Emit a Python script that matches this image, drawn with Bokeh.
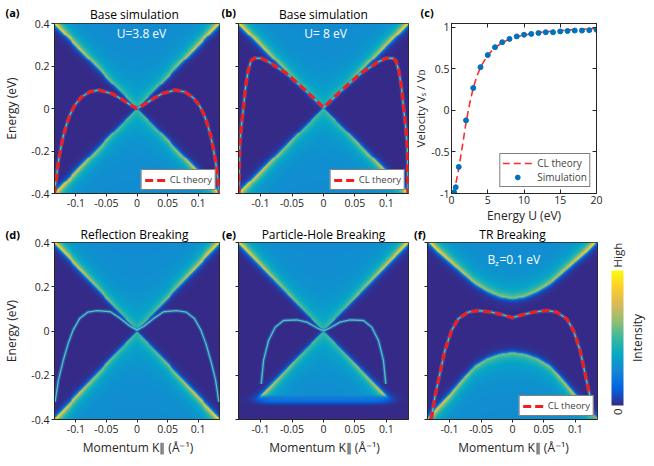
import numpy as np
from bokeh.plotting import figure
from bokeh.models import (LinearColorMapper, Label, Legend, LegendItem, LinearAxis, GridBox,
                          Range1d, FixedTicker, NumeralTickFormatter, CustomJSTickFormatter, ColorBar)
from bokeh.layouts import row, column
from bokeh.embed import file_html
from bokeh.resources import INLINE

# ------------------------------------------------------------------ data
K_RANGE = (-0.135, 0.135)
E_RANGE = (-0.4, 0.4)
k_ticks = [-0.1, -0.05, 0, 0.05, 0.1]
E_ticks = [-0.4, -0.2, 0, 0.2, 0.4]
U_ticks = [0, 5, 10, 15, 20]
V_ticks = [-1, -0.5, 0, 0.5, 1]

# bulk Dirac-cone edges (|k|, E)
cone_up_k = [0.0, 0.135]
cone_up_E = [0.0, 0.4]
cone_lo_k = [0.0, 0.135]
cone_lo_E = [0.0, -0.4]
ph_cut_E = -0.295                      # (e) lower cone ends here
tr_up_k = [0.0, 0.02, 0.04, 0.06, 0.08, 0.10, 0.12, 0.135]
tr_up_E = [0.145, 0.155, 0.18, 0.215, 0.265, 0.315, 0.365, 0.41]
tr_lo_k = [0.0, 0.02, 0.04, 0.06, 0.08, 0.10, 0.12, 0.135]
tr_lo_E = [-0.097, -0.105, -0.125, -0.16, -0.222, -0.29, -0.35, -0.4]

# (a) CL theory, U = 3.8 eV
a_k = [-0.135, -0.134, -0.1313, -0.1286, -0.1249, -0.1206, -0.1154, -0.11, -0.102, -0.0916, -0.078,
       -0.0624, -0.041, -0.0254, -0.0095, 0.0, 0.0095, 0.0254, 0.041, 0.0624, 0.078, 0.0916, 0.102,
       0.11, 0.1154, 0.1206, 0.1249, 0.1286, 0.1313, 0.134, 0.135]
a_E = [-0.4, -0.37, -0.31, -0.25, -0.189, -0.129, -0.076, -0.031, 0.0145, 0.052, 0.078,
       0.087, 0.07, 0.044, 0.0145, 0.0, 0.0145, 0.044, 0.07, 0.087, 0.078, 0.052, 0.0145,
       -0.031, -0.076, -0.129, -0.189, -0.25, -0.31, -0.37, -0.4]
# (b) CL theory, U = 8 eV
b_k = [-0.1345, -0.133, -0.130, -0.127, -0.124, -0.12, -0.115, -0.11, -0.099, -0.086, -0.059, -0.033,
       -0.014, 0.0, 0.014, 0.033, 0.059, 0.086, 0.099, 0.11, 0.115, 0.12, 0.124, 0.127, 0.130, 0.133, 0.1345]
b_E = [-0.4, -0.174, -0.07, 0.007, 0.097, 0.173, 0.225, 0.237, 0.236, 0.218, 0.165, 0.097,
       0.044, 0.004, 0.044, 0.097, 0.165, 0.218, 0.236, 0.237, 0.225, 0.173, 0.097, 0.007, -0.07, -0.174, -0.4]
# (d) reflection breaking surface state
d_k = [-0.134, -0.1286, -0.1206, -0.1126, -0.1046, -0.094, -0.0807, -0.0647, -0.0434, -0.0274, -0.0114,
       0.0, 0.0114, 0.0274, 0.0434, 0.0647, 0.0807, 0.094, 0.1046, 0.1126, 0.1206, 0.1286, 0.134]
d_E = [-0.32, -0.222, -0.132, -0.056, 0.004, 0.056, 0.085, 0.092, 0.087, 0.057, 0.022,
       0.004, 0.022, 0.057, 0.087, 0.092, 0.085, 0.056, 0.004, -0.056, -0.132, -0.222, -0.32]
# (e) particle-hole breaking surface state
e_k = [-0.0989, -0.0952, -0.0873, -0.0767, -0.0635, -0.0422, -0.0263, -0.0105, 0.0,
       0.0105, 0.0263, 0.0422, 0.0635, 0.0767, 0.0873, 0.0952, 0.0989]
e_E = [-0.239, -0.133, -0.043, 0.017, 0.0475, 0.0506, 0.04, 0.0145, 0.0,
       0.0145, 0.04, 0.0506, 0.0475, 0.017, -0.043, -0.133, -0.239]
# (f) CL theory, Bz = 0.1 eV
f_k = [-0.130, -0.1286, -0.1233, -0.1153, -0.1074, -0.0968, -0.0862, -0.0704, -0.0545, -0.0333, -0.0175,
       0.0, 0.0175, 0.0333, 0.0545, 0.0704, 0.0862, 0.0968, 0.1074, 0.1153, 0.1233, 0.1286, 0.130]
f_E = [-0.4, -0.39, -0.299, -0.193, -0.088, 0.0023, 0.055, 0.085, 0.0927, 0.085, 0.0746,
       0.06, 0.0746, 0.085, 0.0927, 0.085, 0.055, 0.0023, -0.088, -0.193, -0.299, -0.39, -0.4]

# (c) velocity ratio
U_cl = [0.2, 0.4, 0.6, 0.8, 1.0, 1.5, 2.0, 2.5, 3.0, 3.5, 4.0, 5.0, 6.0, 7.0, 8.0, 9.0,
        10.0, 12.0, 14.0, 16.0, 18.0, 20.0]
V_cl = [-1.0, -0.96, -0.88, -0.79, -0.70, -0.43, -0.15, 0.08, 0.27, 0.41, 0.52, 0.665, 0.755, 0.815,
        0.855, 0.885, 0.905, 0.935, 0.955, 0.967, 0.977, 0.985]
U_sim = [0.13, 0.36, 0.58, 1, 2, 3, 4, 5, 6, 7, 8, 9, 10, 11, 12, 13, 14, 15, 16, 17, 18, 19, 20]
V_sim = [-1.02, -0.985, -0.925, -0.68, -0.12, 0.27, 0.52, 0.665, 0.76, 0.82, 0.86, 0.89, 0.91,
         0.92, 0.93, 0.94, 0.94, 0.95, 0.955, 0.96, 0.96, 0.965, 0.97]

# ------------------------------------------------------------------ style
FONT = "Open Sans"
AX = "#262626"
FW, FH = 170, 177
NX, NY = 170, 177

anchors = ["#352a87", "#0363e1", "#1485d4", "#06a7c6", "#38b99e",
           "#92bf73", "#d9ba56", "#fcce2e", "#f9fb0e"]
_rgb = np.array([[int(h[i:i + 2], 16) for i in (1, 3, 5)] for h in anchors], float)
_pos = np.linspace(0, 1, len(anchors))
_t = np.linspace(0, 1, 256)
_pal = np.stack([np.interp(_t, _pos, _rgb[:, c]) for c in range(3)], 1)
PARULA = ["#%02x%02x%02x" % tuple(int(round(v)) for v in c) for c in _pal]
mapper = LinearColorMapper(palette=PARULA, low=0, high=1)


def spectral_map(up_k, up_E, lo_k, lo_E, cut_E=None):
    kk = np.linspace(K_RANGE[0], K_RANGE[1], NX + 1)
    ee = np.linspace(E_RANGE[0], E_RANGE[1], NY + 1)
    kc = 0.5 * (kk[1:] + kk[:-1])
    ec = 0.5 * (ee[1:] + ee[:-1])
    K, E = np.meshgrid(kc, ec)
    ak = np.abs(K)
    Eu = np.interp(ak, up_k, up_E)
    El = np.interp(ak, lo_k, lo_E)
    s = 0.2 + 0.8 * np.clip(np.abs(E) / 0.4, 0, 1)
    bulk = 0.27 + 0.12 * np.exp(-np.abs(E) / 0.12)
    du = E - Eu
    dl = El - E
    I = np.zeros_like(K)
    up = du >= 0
    lo = dl >= 0
    Iu = bulk + s * (0.5 * np.exp(-np.abs(du) / 0.016) + 0.25 * np.exp(-np.abs(du) / 0.05))
    Il = bulk + s * (0.5 * np.exp(-np.abs(dl) / 0.016) + 0.25 * np.exp(-np.abs(dl) / 0.05))
    I[up] = Iu[up]
    I[lo] = Il[lo]
    mid = ~(up | lo)
    dout = np.minimum(np.abs(du), np.abs(dl))
    Im = s * 0.72 * np.exp(-dout / 0.005) + 0.2 * s * np.exp(-dout / 0.02)
    I[mid] = Im[mid]
    if cut_E is not None:
        fade = 1.0 / (1.0 + np.exp((cut_E - E) / 0.004))
        I = I * fade
        edge = 1.0 / (1.0 + np.exp((ak - 0.103) / 0.008))
        I = I + 0.2 * np.exp(-((E - (cut_E - 0.015)) / 0.018) ** 2) * edge
    return np.clip(I, 0, 1).astype(np.float32)


def style_axis(ax, t_in, t_out, labels=True, lsize="10.5px", alsize="12px", lstand=2, astand=1):
    ax.major_tick_in = t_in
    ax.major_tick_out = t_out
    ax.minor_tick_line_color = None
    ax.axis_line_color = AX
    ax.major_tick_line_color = AX
    ax.major_label_text_font = FONT
    ax.major_label_text_font_size = lsize
    ax.major_label_text_color = AX
    ax.major_label_standoff = lstand
    ax.axis_label_text_font = FONT
    ax.axis_label_text_font_size = alsize
    ax.axis_label_text_font_style = "normal"
    ax.axis_label_text_color = AX
    ax.axis_label_standoff = astand
    if not labels:
        ax.formatter = CustomJSTickFormatter(code="return ''")


def lab(p, x, y, text, size="12px", color="black", align="center", baseline="alphabetic",
        style="normal", angle=0.0):
    p.add_layout(Label(x=x, y=y, x_units="screen", y_units="screen", text=text, text_font=FONT,
                       text_font_size=size, text_color=color, text_align=align,
                       text_baseline=baseline, text_font_style=style, angle=angle))


def base_fig(left, right, top, bottom, fw, fh, xr, yr, **kw):
    p = figure(width=left + fw + right, height=top + fh + bottom,
               min_border_left=left, min_border_right=right,
               min_border_top=top, min_border_bottom=bottom,
               x_range=xr, y_range=yr, title_location=None, align="start",
               output_backend="svg", toolbar_location=None, **kw)
    p.xgrid.visible = False
    p.ygrid.visible = False
    return p


def heat_panel(img, left, right, top, bottom, ylabels, ylabel=None, xlabel=None):
    p = base_fig(left, right, top, bottom, FW, FH, Range1d(*K_RANGE), Range1d(*E_RANGE))
    p.image(image=[img], x=K_RANGE[0], y=E_RANGE[0], dw=K_RANGE[1] - K_RANGE[0],
            dh=E_RANGE[1] - E_RANGE[0], color_mapper=mapper)
    p.outline_line_color = AX
    p.background_fill_color = "#352a87"
    p.xaxis.ticker = FixedTicker(ticks=k_ticks)
    p.xaxis.formatter = NumeralTickFormatter(format="0.[00]")
    p.yaxis.ticker = FixedTicker(ticks=E_ticks)
    p.yaxis.formatter = NumeralTickFormatter(format="0.[0]")
    style_axis(p.xaxis[0], 0, 3, True, astand=3)
    style_axis(p.yaxis[0], 0, 3, ylabels, astand=8)
    if ylabel:
        p.yaxis.axis_label = ylabel
    if xlabel:
        p.xaxis.axis_label = xlabel
    return p


def surface_line(p, ks, es):
    p.line(ks, es, line_color="#1f78d8", line_width=4, line_alpha=0.5)
    p.line(ks, es, line_color="#55c4ad", line_width=1.3)


def cl_line(p, ks, es):
    r = p.line(ks, es, line_color="#f21d1d", line_width=3.2, line_dash="8 4")
    leg = Legend(items=[LegendItem(label="CL theory", renderers=[r])], location="bottom_right",
                 label_text_font=FONT, label_text_font_size="9.5px", glyph_width=22, glyph_height=10,
                 padding=3, margin=3, spacing=0, label_standoff=3, label_height=10,
                 border_line_color="black", border_line_width=0.7,
                 background_fill_color="white", background_fill_alpha=1)
    p.add_layout(leg)


cone_img = spectral_map(cone_up_k, cone_up_E, cone_lo_k, cone_lo_E)
ph_img = spectral_map(cone_up_k, cone_up_E, cone_lo_k, cone_lo_E, cut_E=ph_cut_E)
tr_img = spectral_map(tr_up_k, tr_up_E, tr_lo_k, tr_lo_E)

XL = "Momentum K\u2225 (\u00c5\u207b\u00b9)"
TOP1, BOT1 = 23, 26
TOP2, BOT2 = 16, 44

# ---- (a)
pa = heat_panel(cone_img, 49, 2, TOP1, BOT1, True, ylabel="Energy (eV)")
surface_line(pa, a_k, a_E)
cl_line(pa, a_k, a_E)
lab(pa, 87, FH - 17, "U=3.8 eV", color="white")

# ---- (b)
pb = heat_panel(cone_img, 17, 2, TOP1, BOT1, False)
surface_line(pb, b_k, b_E)
cl_line(pb, b_k, b_E)
lab(pb, 87, FH - 17, "U= 8 eV", color="white")

# ---- (c)
pc = base_fig(37, 12, 17, 33, 149, 176, Range1d(0, 20), Range1d(-1.0, 1.045))
pc.outline_line_color = AX
r_cl = pc.line(U_cl, V_cl, line_color="#ff2b2b", line_width=1.6, line_dash="7 4")
r_sim = pc.scatter(U_sim, V_sim, size=5, fill_color="#0072bd", line_color="#0072bd")
pc.xaxis.ticker = FixedTicker(ticks=U_ticks)
pc.xaxis.formatter = NumeralTickFormatter(format="0")
pc.yaxis.ticker = FixedTicker(ticks=V_ticks)
pc.yaxis.formatter = NumeralTickFormatter(format="0.[0]")
style_axis(pc.xaxis[0], 4, 0, True, astand=0)
style_axis(pc.yaxis[0], 4, 0, True, alsize="11.5px", astand=0)
pc.xaxis.axis_label = "Energy U (eV)"
pc.yaxis.axis_label = "Velocity V\u209b / V\u1d05"
for side, tk in (("above", U_ticks), ("right", V_ticks)):
    ax = LinearAxis(ticker=FixedTicker(ticks=tk))
    style_axis(ax, 4, 0, False)
    ax.major_label_text_font_size = "0px"
    ax.major_label_standoff = 0
    pc.add_layout(ax, side)
leg_c = Legend(items=[LegendItem(label="CL theory", renderers=[r_cl]),
                      LegendItem(label="Simulation", renderers=[r_sim])],
               location="bottom_right", label_text_font=FONT, label_text_font_size="10px",
               glyph_width=30, glyph_height=12, padding=2, margin=6, spacing=0, label_standoff=5,
               label_height=12, border_line_color="black", border_line_width=0.7,
               background_fill_color="white", background_fill_alpha=1)
pc.add_layout(leg_c)

# ---- (d)
pd = heat_panel(cone_img, 49, 2, TOP2, BOT2, True, ylabel="Energy (eV)", xlabel=XL)
surface_line(pd, d_k, d_E)

# ---- (e)
pe = heat_panel(ph_img, 17, 5, TOP2, BOT2, False, xlabel=XL)
surface_line(pe, e_k, e_E)

# ---- (f)
pf = heat_panel(tr_img, 14, 4, TOP2, BOT2, False, xlabel=XL)
surface_line(pf, f_k, f_E)
cl_line(pf, f_k, f_E)
lab(pf, 60, FH - 17, "B", color="white", align="left")
lab(pf, 67.5, FH - 20, "z", size="8px", color="white", align="left")
lab(pf, 72, FH - 17, "=0.1 eV", color="white", align="left")

# ---- colour bar (frame wide enough to hold its texts)
pg = base_fig(10, 0, TOP2, BOT2, 39, FH, Range1d(0, 1), Range1d(0, 1),
              x_axis_location=None, y_axis_location=None)
pg.outline_line_color = None
cb = ColorBar(color_mapper=mapper, location=(0, 14), width=12, height=135, padding=0, margin=0,
              ticker=FixedTicker(ticks=[]), major_tick_line_color=None, minor_tick_line_color=None,
              major_label_text_font_size="0px", bar_line_color=None, border_line_color=None,
              background_fill_alpha=0)
pg.add_layout(cb)
lab(pg, 6, 14 + 135 + 3, "High", size="11.5px", color=AX, align="left", baseline="middle", angle=np.pi / 2)
lab(pg, 6, 14 - 3, "0", size="11.5px", color=AX, align="right", baseline="middle", angle=np.pi / 2)
lab(pg, 26, 14 + 67.5, "Intensity", size="12px", color=AX, align="center", baseline="middle", angle=np.pi / 2)

main = column(row(pa, pb, pc, spacing=0), row(pd, pe, pf, pg, spacing=0), spacing=0)

# ---- transparent text layer over the whole page for panel letters and titles
PW, PH = 650, 463
ov = base_fig(0, 0, 0, 0, PW, PH, Range1d(0, 1), Range1d(0, 1),
              x_axis_location=None, y_axis_location=None)
ov.outline_line_color = None
ov.background_fill_alpha = 0
ov.border_fill_alpha = 0


def page_lab(x, y_top_down, text, **kw):
    lab(ov, x, PH - y_top_down, text, **kw)


page_lab(5, 4, "(a)", size="11px", align="left", baseline="top", style="bold")
page_lab(221, 4, "(b)", size="11px", align="left", baseline="top", style="bold")
page_lab(420, 4, "(c)", size="11px", align="left", baseline="top", style="bold")
page_lab(49 + FW / 2, 22, "Base simulation", baseline="bottom")
page_lab(238 + FW / 2, 22, "Base simulation", baseline="bottom")
page_lab(5, 226, "(d)", size="11px", align="left", baseline="top", style="bold")
page_lab(221.5, 226, "(e)", size="11px", align="left", baseline="top", style="bold")
page_lab(413.5, 226, "(f)", size="11px", align="left", baseline="top", style="bold")
page_lab(49 + FW / 2, 242, "Reflection Breaking", baseline="bottom")
page_lab(238 + FW / 2, 242, "Particle-Hole Breaking", baseline="bottom")
page_lab(427 + FW / 2, 242, "TR Breaking", baseline="bottom")

layout = GridBox(children=[(main, 0, 0), (ov, 0, 0)], spacing=0)

open("out.html", "w").write(file_html(layout, INLINE))
